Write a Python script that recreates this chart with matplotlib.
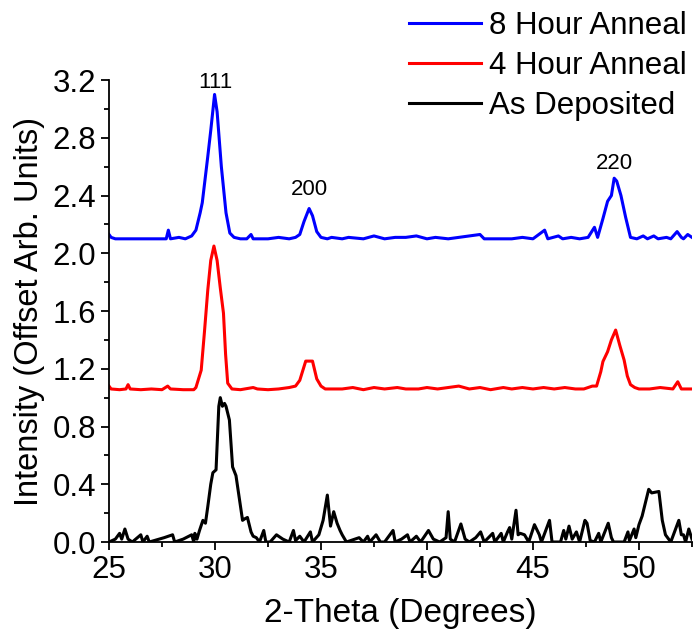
import matplotlib
matplotlib.use("Agg")
import matplotlib.pyplot as plt
from matplotlib.ticker import MultipleLocator

plt.rcParams['font.family'] = ['Liberation Sans', 'DejaVu Sans']

# ---- data ----
black_x = [25.0, 25.3, 25.5, 25.6, 25.75, 25.9, 26.1, 26.5, 26.6, 26.8, 26.9, 27.6, 27.8, 28.0, 28.1,
           28.5, 28.9, 29.0, 29.05, 29.15, 29.27, 29.43, 29.55, 29.66, 29.8, 29.9, 30.05, 30.18, 30.25,
           30.35, 30.45, 30.52, 30.68, 30.83, 30.99, 31.15, 31.3, 31.4, 31.53, 31.7, 31.8, 31.95, 32.1,
           32.3, 32.4, 32.6, 32.9, 33.2, 33.5, 33.7, 33.8, 34.0, 34.2, 34.5, 34.6, 34.9, 35.1, 35.3,
           35.45, 35.6, 35.76, 35.9, 36.0, 36.2, 36.8, 37.0, 37.2, 37.3, 37.6, 37.8, 38.0, 38.4, 38.5,
           38.8, 39.08, 39.2, 39.5, 39.7, 40.07, 40.3, 40.6, 40.9, 41.0, 41.1, 41.3, 41.6, 41.8, 42.0,
           42.3, 42.53, 42.7, 43.1, 43.2, 43.5, 43.6, 43.8, 43.9, 44.0, 44.2, 44.3, 44.4, 44.6, 44.8,
           45.07, 45.3, 45.4, 45.78, 45.9, 46.3, 46.45, 46.55, 46.7, 46.85, 47.05, 47.2, 47.45, 47.55,
           47.7, 47.9, 48.1, 48.2, 48.55, 48.7, 48.8, 49.3, 49.48, 49.55, 49.77, 49.85, 50.0, 50.15,
           50.46, 50.6, 50.94, 51.1, 51.25, 51.5, 51.88, 52.0, 52.1, 52.2, 52.35, 52.5]
black_y = [0.0, 0.02, 0.06, 0.02, 0.09, 0.02, 0.0, 0.05, 0.0, 0.04, 0.0, 0.03, 0.04, 0.05, 0.0,
           0.02, 0.05, 0.0, 0.06, 0.02, 0.08, 0.15, 0.13, 0.245, 0.40, 0.48, 0.50, 0.94, 1.0,
           0.94, 0.96, 0.94, 0.845, 0.52, 0.46, 0.30, 0.15, 0.16, 0.17, 0.07, 0.04, 0.03, 0.0,
           0.08, 0.0, 0.0, 0.05, 0.02, 0.0, 0.08, 0.01, 0.04, 0.0, 0.07, 0.0, 0.05, 0.15, 0.325,
           0.11, 0.21, 0.13, 0.08, 0.05, 0.0, 0.03, 0.0, 0.04, 0.0, 0.05, 0.0, 0.0, 0.08, 0.0,
           0.02, 0.05, 0.0, 0.04, 0.0, 0.08, 0.02, 0.0, 0.03, 0.21, 0.02, 0.0, 0.125, 0.02, 0.0,
           0.03, 0.07, 0.0, 0.06, 0.0, 0.06, 0.0, 0.07, 0.10, 0.02, 0.22, 0.05, 0.06, 0.05, 0.0,
           0.12, 0.05, 0.0, 0.15, 0.0, 0.0, 0.08, 0.02, 0.11, 0.02, 0.07, 0.0, 0.15, 0.13,
           0.01, 0.0, 0.06, 0.0, 0.13, 0.03, 0.0, 0.0, 0.07, 0.01, 0.09, 0.03, 0.12, 0.18,
           0.365, 0.34, 0.35, 0.15, 0.05, 0.0, 0.15, 0.05, 0.05, 0.0, 0.09, 0.02]

red_x = [25.0, 25.1, 25.5, 25.8, 25.9, 26.0, 26.5, 27.0, 27.5, 27.77, 27.9, 28.5, 29.0, 29.1, 29.35,
         29.5, 29.66, 29.8, 29.95, 30.1, 30.25, 30.4, 30.5, 30.6, 30.8, 31.2, 31.8, 32.0, 32.5, 33.0,
         33.5, 33.8, 34.0, 34.28, 34.6, 34.8, 35.0, 35.2, 36.0, 36.5, 37.0, 37.5, 38.0, 38.6, 39.0,
         39.6, 40.0, 40.5, 41.0, 41.5, 42.0, 42.5, 43.0, 43.6, 44.0, 44.5, 45.0, 45.5, 46.0, 46.5,
         47.0, 47.4, 47.8, 48.0, 48.2, 48.3, 48.52, 48.7, 48.9, 49.1, 49.3, 49.45, 49.6, 49.8, 50.0,
         50.5, 51.0, 51.6, 51.83, 52.0, 52.5]
red_y = [1.08, 1.06, 1.055, 1.06, 1.09, 1.06, 1.055, 1.06, 1.055, 1.08, 1.06, 1.055, 1.055, 1.07, 1.19,
         1.45, 1.745, 1.95, 2.05, 1.95, 1.76, 1.585, 1.30, 1.10, 1.06, 1.055, 1.07, 1.06, 1.055, 1.06,
         1.07, 1.08, 1.12, 1.253, 1.253, 1.13, 1.08, 1.06, 1.06, 1.07, 1.055, 1.07, 1.06, 1.07, 1.06,
         1.06, 1.07, 1.06, 1.07, 1.08, 1.06, 1.07, 1.055, 1.07, 1.06, 1.07, 1.06, 1.07, 1.06, 1.07,
         1.06, 1.06, 1.08, 1.08, 1.18, 1.25, 1.318, 1.40, 1.468, 1.36, 1.26, 1.15, 1.09, 1.07, 1.06,
         1.06, 1.07, 1.06, 1.11, 1.06, 1.06]

blue_x = [25.0, 25.1, 25.3, 26.0, 26.5, 27.0, 27.7, 27.8, 27.9, 28.3, 28.6, 28.9, 29.1, 29.3, 29.4,
          29.66, 29.8, 29.98, 30.1, 30.3, 30.52, 30.7, 30.9, 31.2, 31.5, 31.7, 31.8, 32.5, 33.0, 33.5,
          33.8, 34.0, 34.2, 34.44, 34.6, 34.8, 35.0, 35.3, 35.5, 36.0, 36.3, 37.0, 37.5, 38.0, 38.5,
          39.0, 39.5, 40.0, 40.4, 41.0, 41.5, 42.0, 42.5, 42.7, 43.5, 44.0, 44.5, 45.0, 45.55, 45.7,
          46.2, 46.4, 46.8, 47.2, 47.6, 47.9, 48.05, 48.3, 48.52, 48.7, 48.83, 48.95, 49.15, 49.37,
          49.6, 49.9, 50.2, 50.4, 50.7, 50.9, 51.3, 51.5, 51.8, 52.0, 52.1, 52.3, 52.5]
blue_y = [2.13, 2.11, 2.10, 2.10, 2.10, 2.10, 2.10, 2.16, 2.10, 2.11, 2.10, 2.12, 2.16, 2.28, 2.35,
          2.67, 2.85, 3.10, 2.98, 2.60, 2.28, 2.14, 2.11, 2.10, 2.10, 2.13, 2.10, 2.10, 2.11, 2.10,
          2.11, 2.13, 2.22, 2.31, 2.26, 2.15, 2.11, 2.10, 2.11, 2.10, 2.11, 2.10, 2.12, 2.10, 2.11,
          2.11, 2.12, 2.10, 2.11, 2.10, 2.11, 2.12, 2.13, 2.10, 2.10, 2.10, 2.11, 2.10, 2.16, 2.10,
          2.12, 2.10, 2.11, 2.10, 2.11, 2.18, 2.11, 2.24, 2.36, 2.40, 2.52, 2.50, 2.40, 2.25,
          2.11, 2.10, 2.12, 2.10, 2.12, 2.10, 2.11, 2.10, 2.15, 2.11, 2.10, 2.13, 2.11]

series_labels = ["8 Hour Anneal", "4 Hour Anneal", "As Deposited"]
peak_labels = ["111", "200", "220"]
peak_x = [30.0, 34.45, 48.85]
peak_y = [3.18, 2.44, 2.62]

fig = plt.figure(figsize=(6.96, 6.32), dpi=100)
ax = fig.add_axes([0.1566, 0.1424, 0.8376, 0.731])

lw = 2.2
l1, = ax.plot(blue_x, blue_y, color='#0000ff', lw=lw)
l2, = ax.plot(red_x, red_y, color='#ff0000', lw=lw)
l3, = ax.plot(black_x, black_y, color='black', lw=lw)

for t, x, y in zip(peak_labels, peak_x, peak_y):
    ax.text(x, y, t, ha='center', va='center', fontsize=16)

ax.set_xlim(25, 52.5)
ax.set_ylim(0, 3.2)
ax.xaxis.set_major_locator(MultipleLocator(5))
ax.xaxis.set_minor_locator(MultipleLocator(2.5))
ax.yaxis.set_major_locator(MultipleLocator(0.4))
ax.yaxis.set_minor_locator(MultipleLocator(0.2))
ax.yaxis.set_major_formatter(matplotlib.ticker.FormatStrFormatter('%.1f'))
for s in ['top', 'right']:
    ax.spines[s].set_visible(False)
for s in ['left', 'bottom']:
    ax.spines[s].set_linewidth(1.3)
ax.tick_params(which='major', direction='out', length=6, width=1.3, labelsize=22.5, pad=3)
ax.tick_params(which='minor', direction='out', length=3.5, width=1.3)
ax.set_xlabel("2-Theta (Degrees)", fontsize=24, labelpad=10)
ax.set_ylabel("Intensity (Offset Arb. Units)", fontsize=23.5, labelpad=6)

fig.legend([l1, l2, l3], series_labels, loc='upper left', bbox_to_anchor=(409 / 696, 0.982),
           frameon=False, fontsize=22.5, handlelength=2.3, handletextpad=0.25, labelspacing=0.32,
           borderaxespad=0.0, borderpad=0.0)

fig.savefig("out.png", dpi=100)
